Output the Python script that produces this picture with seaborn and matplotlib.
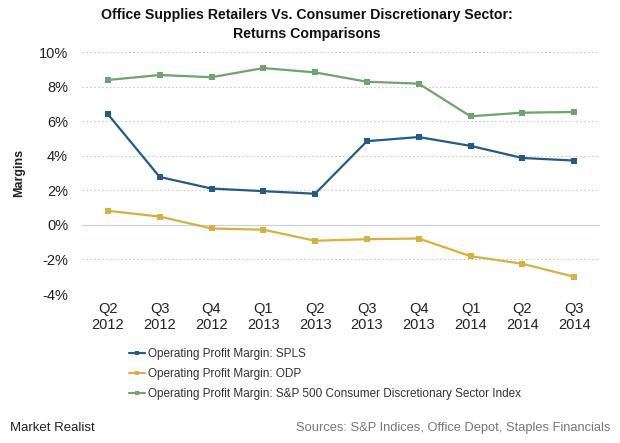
import matplotlib
matplotlib.use("Agg")
import matplotlib.pyplot as plt
import seaborn as sns
import pandas as pd
from matplotlib.ticker import FuncFormatter
from matplotlib.lines import Line2D

quarters = ["Q2\n2012", "Q3\n2012", "Q4\n2012", "Q1\n2013", "Q2\n2013",
            "Q3\n2013", "Q4\n2013", "Q1\n2014", "Q2\n2014", "Q3\n2014"]
spls = [6.4, 2.77, 2.1, 1.95, 1.8, 4.84, 5.08, 4.57, 3.87, 3.72]
odp = [0.81, 0.48, -0.21, -0.28, -0.92, -0.83, -0.79, -1.81, -2.25, -3.0]
sp500 = [8.38, 8.67, 8.54, 9.07, 8.82, 8.28, 8.17, 6.28, 6.49, 6.53]
series_names = ["Operating Profit Margin: SPLS",
                "Operating Profit Margin: ODP",
                "Operating Profit Margin: S&P 500 Consumer Discretionary Sector Index"]
colors = ["#225b87", "#d8b13a", "#6ea46e"]

rows = []
for name, vals in zip(series_names, [spls, odp, sp500]):
    for i, v in enumerate(vals):
        rows.append({"x": i, "value": v, "series": name})
df = pd.DataFrame(rows)

sns.set_theme(style="white")
plt.rcParams["font.family"] = ["Liberation Sans", "DejaVu Sans"]

fig = plt.figure(figsize=(6.2, 4.43), dpi=100)
ax = fig.add_axes([82 / 620, 1 - 294 / 443, 518 / 620, 242 / 443])

sns.lineplot(data=df, x="x", y="value", hue="series", palette=colors,
             marker="s", markersize=4, markeredgewidth=0, linewidth=1.6,
             ax=ax, legend=False)

ax.set_xlim(-0.5, 9.5)
ax.set_ylim(-4, 10)
ax.set_yticks(range(-4, 11, 2))
ax.yaxis.set_major_formatter(FuncFormatter(lambda v, p: f"{int(v)}%"))
ax.set_xticks(range(len(quarters)))
ax.set_xticklabels(quarters, fontsize=10.5, color="#222222", linespacing=1.15)
ax.tick_params(axis="y", labelsize=10.5, labelcolor="#222222", length=0, pad=10)
ax.tick_params(axis="x", length=0, pad=6)
for s in ax.spines.values():
    s.set_visible(False)
for yv in range(-4, 11, 2):
    if yv == 0:
        ax.axhline(0, color="#c9d3e0", linewidth=0.9, zorder=0)
    else:
        ax.axhline(yv, color="#cccccc", linewidth=0.8, linestyle=(0, (1.5, 2)), zorder=0)
ax.set_xlabel("")
ax.set_ylabel("Margins", fontsize=9, fontweight="bold", color="#222222", labelpad=10)

fig.text(307 / 620, 1 - 8 / 443, "Office Supplies Retailers Vs. Consumer Discretionary Sector:\nReturns Comparisons",
         ha="center", va="top", fontsize=10.2, fontweight="bold", color="#111111",
         linespacing=1.45)

handles = [Line2D([0], [0], color=c, marker="s", markersize=3.5, markeredgewidth=0, linewidth=1.5)
           for c in colors]
fig.legend(handles, series_names, loc="upper left", bbox_to_anchor=(124 / 620, 1 - 343 / 443),
           frameon=False, fontsize=8.5, handlelength=1.4, handletextpad=0.2,
           labelspacing=0.7, labelcolor="#333333", borderaxespad=0)

fig.text(10 / 620, 1 - 428 / 443, "Market Realist", fontsize=9.5, color="#222222", va="center", ha="left")
fig.text(610 / 620, 1 - 428 / 443, "Sources: S&P Indices, Office Depot, Staples Financials",
         fontsize=9.3, color="#777777", va="center", ha="right")

fig.savefig("out.png", dpi=100)
